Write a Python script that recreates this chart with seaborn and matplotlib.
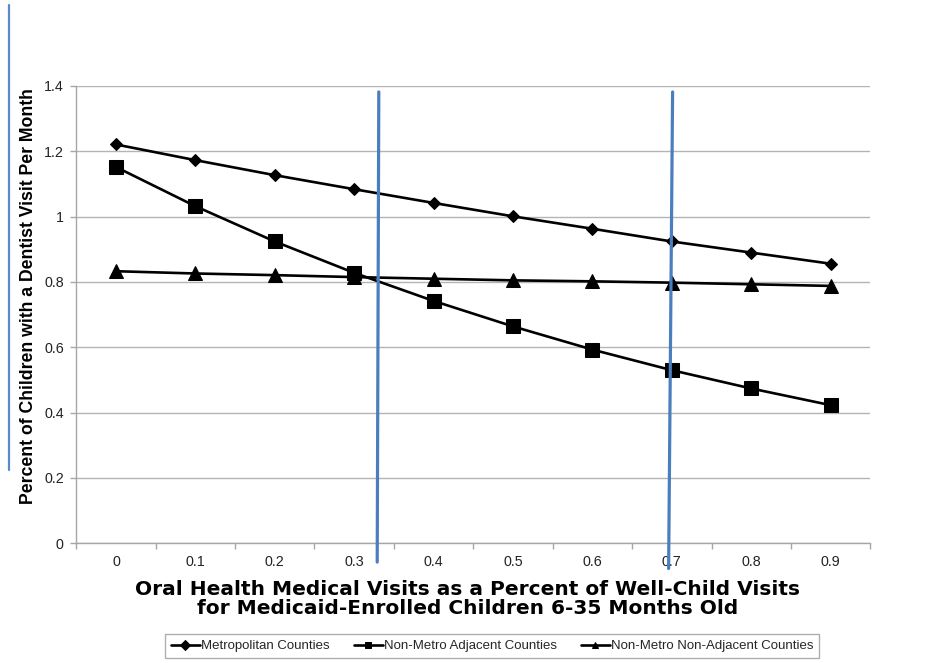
import matplotlib
matplotlib.use("Agg")
import matplotlib.pyplot as plt
from matplotlib.lines import Line2D
import seaborn as sns
import pandas as pd
import numpy as np

# Share of oral-health visits among well-child visits (x categories)
oral_health_share = [0, 0.1, 0.2, 0.3, 0.4, 0.5, 0.6, 0.7, 0.8, 0.9]
x_tick_labels = ["0", "0.1", "0.2", "0.3", "0.4", "0.5", "0.6", "0.7", "0.8", "0.9"]

# Predicted dentist visits per month, by county type
metropolitan = [1.221, 1.173, 1.127, 1.084, 1.042, 1.001, 0.963, 0.924, 0.890, 0.856]
nonmetro_adjacent = [1.152, 1.032, 0.924, 0.828, 0.742, 0.664, 0.593, 0.530, 0.474, 0.423]
nonmetro_nonadjacent = [0.833, 0.826, 0.821, 0.815, 0.810, 0.805, 0.802, 0.798, 0.793, 0.788]

series_names = ["Metropolitan Counties", "Non-Metro Adjacent Counties",
                "Non-Metro Non-Adjacent Counties"]
y_ticks = [0, 0.2, 0.4, 0.6, 0.8, 1.0, 1.2, 1.4]
y_tick_labels = ["0", "0.2", "0.4", "0.6", "0.8", "1", "1.2", "1.4"]

# Reference positions marked on the x axis (top x, bottom x, bottom end)
marker_lines = [(0.331, 0.329, -0.041), (0.701, 0.696, -0.055)]

df = pd.DataFrame({
    "share": oral_health_share * 3,
    "visits": metropolitan + nonmetro_adjacent + nonmetro_nonadjacent,
    "county": np.repeat(series_names, len(oral_health_share)),
})

sns.set_theme(style="white")
plt.rcParams["font.family"] = ["Liberation Sans", "DejaVu Sans"]

fig = plt.figure(figsize=(9.52, 6.63), dpi=100)
ax = fig.add_axes([0.0801, 0.1805, 0.8341, 0.6898])

styles = {
    "Metropolitan Counties": dict(marker="D", markersize=6.5),
    "Non-Metro Adjacent Counties": dict(marker="s", markersize=10.5),
    "Non-Metro Non-Adjacent Counties": dict(marker="^", markersize=9.8),
}
for name in series_names:
    sub = df[df["county"] == name]
    sns.lineplot(data=sub, x="share", y="visits", ax=ax, color="black",
                 linewidth=1.9, markeredgecolor="black", markerfacecolor="black",
                 label=name, **styles[name])

ax.set_xlim(-0.05, 0.95)
ax.set_ylim(0, 1.4)
ax.set_yticks(y_ticks)
ax.set_yticklabels(y_tick_labels)
ax.set_xticks(oral_health_share)
ax.set_xticklabels(x_tick_labels)
ax.set_xticks(np.arange(-0.05, 0.951, 0.1), minor=True)

grid_gray = "#b4b4b4"
ax.yaxis.grid(True, color=grid_gray, linewidth=1.0)
ax.xaxis.grid(False)
ax.set_axisbelow(True)
for side in ["top", "right"]:
    ax.spines[side].set_visible(False)
for side in ["left", "bottom"]:
    ax.spines[side].set_color("#a6a6a6")
    ax.spines[side].set_linewidth(1.0)

ax.tick_params(axis="x", which="major", length=0, pad=8.5, labelsize=10.3,
               labelcolor="#222222")
ax.tick_params(axis="x", which="minor", bottom=True, length=4,
               color="#a6a6a6", width=1.0)
ax.tick_params(axis="y", which="major", left=True, length=4, color="#a6a6a6",
               width=1.0, pad=5, labelsize=10.3, labelcolor="#222222")

ax.set_xlabel("Oral Health Medical Visits as a Percent of Well-Child Visits\n"
              "for Medicaid-Enrolled Children 6-35 Months Old",
              fontsize=14.5, fontweight="bold", color="black",
              family=["DejaVu Sans"], linespacing=0.98, va="top", ha="center")
ax.xaxis.set_label_coords(0.493, -0.080)
ax.set_ylabel("Percent of Children with a Dentist Visit Per Month",
              fontsize=12.7, fontweight="bold", color="black",
              va="center", ha="center")
ax.yaxis.set_label_coords(-0.0605, 0.541)

# Vertical reference lines drawn across the plot
blue = "#4a7ebf"
for x_top, x_bottom, y_bottom in marker_lines:
    ax.plot([x_top, x_bottom], [0.987, y_bottom], color=blue, linewidth=2.3,
            transform=ax.get_xaxis_transform(), clip_on=False, zorder=5)

fig.add_artist(Line2D([9 / 952, 9 / 952], [1 - 5 / 663, 1 - 470 / 663],
                      color="#5a8acb", linewidth=1.6))

leg = ax.legend(loc="center", bbox_to_anchor=(0.517, 0.0256),
                bbox_transform=fig.transFigure, ncol=3, frameon=True,
                fancybox=False, edgecolor="#9a9a9a", fontsize=9.5,
                handlelength=2.2, handletextpad=0.1, columnspacing=1.8,
                borderpad=0.45)
leg.get_frame().set_linewidth(1.0)
for h in leg.legend_handles:
    h.set_markersize(5)
    h.set_linewidth(1.9)

fig.savefig("out.png", dpi=100, facecolor="white")
